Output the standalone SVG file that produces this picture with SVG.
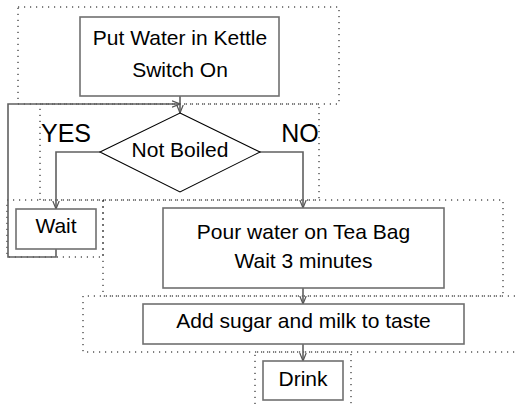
<svg xmlns="http://www.w3.org/2000/svg" width="521" height="404" viewBox="0 0 521 404">
  <defs>
    <marker id="arrow" viewBox="0 0 8 8" refX="8" refY="4" markerWidth="8" markerHeight="8" markerUnits="userSpaceOnUse" orient="auto">
      <path d="M0,0.8 L8,4 L0,7.2" fill="none" stroke="#555" stroke-width="1.2"/>
    </marker>
  </defs>
  <style>
    .frame { fill: none; stroke: #000; stroke-width: 1; stroke-dasharray: 1.2 4.8; }
    .box { fill: #fff; stroke: #707070; stroke-width: 1.6; }
    .diamond { fill: #fff; stroke: #000; stroke-width: 1.1; }
    .conn { fill: none; stroke: #606060; stroke-width: 1.6; }
    .lbl { font-family: "Liberation Sans", Arial, sans-serif; font-size: 21px; fill: #000; text-anchor: middle; }
    .big { font-family: "Liberation Sans", Arial, sans-serif; font-size: 25px; fill: #000; text-anchor: middle; }
  </style>
  <rect width="521" height="404" fill="#fff"/>

  <!-- dotted grouping frames -->
  <g id="frames">
    <rect class="frame" x="18" y="7" width="321" height="97"/>
    <rect class="frame" x="40" y="104" width="279" height="96"/>
    <rect class="frame" x="7" y="200" width="96" height="57"/>
    <rect class="frame" x="103" y="200" width="400" height="96"/>
    <path class="frame" d="M515,296 H83 V352 H515"/>
    <path class="frame" d="M255,410 V352 H351 V410"/>
  </g>

  <!-- connectors -->
  <g id="connectors">
    <path class="conn" d="M180,96 V113" marker-end="url(#arrow)"/>
    <path class="conn" d="M100,152 H56 V209" marker-end="url(#arrow)"/>
    <path class="conn" d="M259,152 H303 V208" marker-end="url(#arrow)"/>
    <path class="conn" d="M56,249 V257 H8 V104 H180" marker-end="url(#arrow)"/>
    <path class="conn" d="M303,288 V304" marker-end="url(#arrow)"/>
    <path class="conn" d="M303,344 V361" marker-end="url(#arrow)"/>
  </g>

  <g id="start">
    <rect class="box" x="80" y="17" width="199" height="79"/>
    <text class="lbl" x="180" y="45">Put Water in Kettle</text>
    <text class="lbl" x="180" y="77">Switch On</text>
  </g>

  <g id="decision">
    <polygon class="diamond" points="180,113 260,152 180,192 100,152"/>
    <text class="lbl" x="180" y="157">Not Boiled</text>
  </g>

  <g id="label-yes">
    <text class="big" x="66" y="142">YES</text>
  </g>
  <g id="label-no">
    <text class="big" x="300" y="142">NO</text>
  </g>

  <g id="wait">
    <rect class="box" x="16" y="209" width="80" height="40"/>
    <text class="lbl" x="56" y="233">Wait</text>
  </g>

  <g id="pour">
    <rect class="box" x="163" y="208" width="281" height="80"/>
    <text class="lbl" x="303.5" y="239">Pour water on Tea Bag</text>
    <text class="lbl" x="303.5" y="268">Wait 3 minutes</text>
  </g>

  <g id="sugar">
    <rect class="box" x="143" y="304" width="321" height="40"/>
    <text class="lbl" x="303.5" y="328">Add sugar and milk to taste</text>
  </g>

  <g id="drink">
    <rect class="box" x="263" y="361" width="80" height="39"/>
    <text class="lbl" x="303" y="386">Drink</text>
  </g>
</svg>
